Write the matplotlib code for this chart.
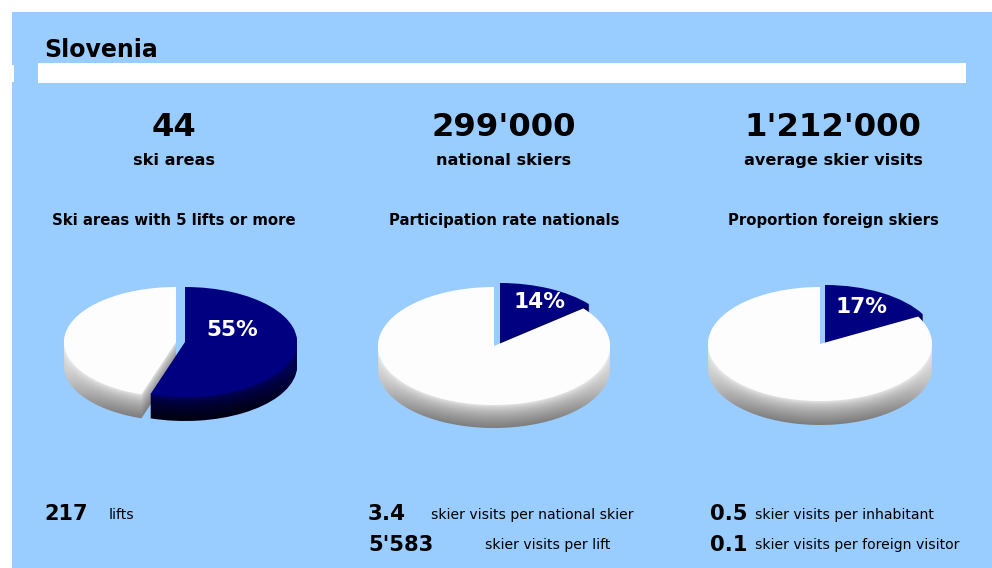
import matplotlib
matplotlib.use('Agg')
import matplotlib.pyplot as plt
import numpy as np
from matplotlib.patches import Rectangle

W, H = 992, 568
BG = '#99ccff'
NAVY = '#000080'

country = 'Slovenia'
big_numbers = ['44', "299'000", "1'212'000"]
big_labels = ['ski areas', 'national skiers', 'average skier visits']
pie_titles = ['Ski areas with 5 lifts or more', 'Participation rate nationals', 'Proportion foreign skiers']
shares = [55, 14, 17]
stat_values = ['217', '3.4', "5'583", '0.5', '0.1']
stat_labels = ['lifts', 'skier visits per national skier', 'skier visits per lift',
               'skier visits per inhabitant', 'skier visits per foreign visitor']

fig = plt.figure(figsize=(W / 100, H / 100), dpi=100, facecolor='white')
base = fig.add_axes([0, 0, 1, 1])
base.set_xlim(0, W)
base.set_ylim(H, 0)
base.axis('off')

base.add_patch(Rectangle((12, 12), W - 12, H - 12, color=BG, lw=0))
base.add_patch(Rectangle((38, 63), 928, 20, color='white', lw=0))
base.add_patch(Rectangle((12, 65), 1.5, 17, color='white', lw=0))


def label(x, y, s, size, bold=True, ha='center', color='black', ax=base):
    # y is the text baseline in pixels
    ax.text(x, y, s, fontsize=size, fontweight='bold' if bold else 'normal', ha=ha, va='baseline',
            color=color, family='DejaVu Sans')


label(44, 57, country, 17, ha='left')

centers = [174, 504, 833]
for x, num, lab, title in zip(centers, big_numbers, big_labels, pie_titles):
    label(x, 136, num, 23.2)
    label(x, 165, lab, 11.6)
    label(x, 225, title, 10.7)


def side_image(t, dark):
    # colour strip for one layer of the rim, t=0 top of the rim, t=1 bottom
    xn = np.linspace(-1, 1, 120)
    k = 1 - t ** 0.6 * (0.16 + 0.32 * (1 - xn ** 4))
    if dark:
        return np.dstack([0 * k, 0 * k, (0.42 * k ** 2 - 0.04 * t).clip(0, 1)])
    v = 0.95 * k
    return np.dstack([v, v, v])


def draw_pie(value, rect, rx, ry, depth, white_c, navy_c, navy_on_top):
    # rect is the axes box in pixels, centres are in pixels
    x0, y0, x1, y1 = rect
    ax = fig.add_axes([x0 / W, 1 - y1 / H, (x1 - x0) / W, (y1 - y0) / H])
    ax.set_facecolor('none')
    vals = [value, 100 - value]
    order = ((1, white_c), (0, navy_c)) if navy_on_top else ((0, navy_c), (1, white_c))
    xw, yh = (x1 - x0) / rx, (y1 - y0) / ry
    z = 1.0
    for part, c in order:
        cx = (c[0] - x0) / rx
        for d in range(depth, -1, -1):
            z += 0.01
            wedges, _ = ax.pie(vals, startangle=90, counterclock=False, radius=1)
            wedges[1 - part].set_visible(False)
            w = wedges[part]
            w.set_center((cx, (y1 - c[1] - d) / ry))
            w.set_linewidth(0)
            w.set_zorder(z)
            if d == 0:
                w.set_facecolor(NAVY if part == 0 else '#fdfdfd')
            else:
                w.set_facecolor('none')
                im = ax.imshow(side_image(d / depth, part == 0), extent=(cx - 1, cx + 1, 0, yh),
                               aspect='auto', zorder=z)
                im.set_clip_path(w)
    ax.set_aspect('auto')
    ax.set_xlim(0, xw)
    ax.set_ylim(0, yh)
    ax.axis('off')


draw_pie(shares[0], (50, 275, 310, 430), 112, 55, 24, (176, 342), (185, 342), True)
draw_pie(shares[1], (365, 275, 625, 435), 116, 59, 23, (494, 346), (500, 342), False)
draw_pie(shares[2], (695, 275, 945, 435), 112, 57, 24, (820, 344), (825, 342), False)

# percent labels sit above the pie axes
top = fig.add_axes([0, 0, 1, 1], facecolor='none')
top.set_xlim(0, W)
top.set_ylim(H, 0)
top.axis('off')
for x, y, v in zip([232, 540, 862], [336, 308, 313], shares):
    label(x, y, f'{v}%', 15.6, color='white', ax=top)

label(44, 520, stat_values[0], 15, ha='left')
label(109, 519, stat_labels[0], 10.1, bold=False, ha='left')
label(368, 520, stat_values[1], 15.5, ha='left')
label(431, 519, stat_labels[1], 10.1, bold=False, ha='left')
label(368, 551, stat_values[2], 15.2, ha='left')
label(485, 549, stat_labels[2], 10.1, bold=False, ha='left')
label(710, 520, stat_values[3], 15.2, ha='left')
label(755, 519, stat_labels[3], 10.1, bold=False, ha='left')
label(710, 551, stat_values[4], 15.2, ha='left')
label(755, 549, stat_labels[4], 10.1, bold=False, ha='left')

fig.savefig('out.png', dpi=100, facecolor='white')
